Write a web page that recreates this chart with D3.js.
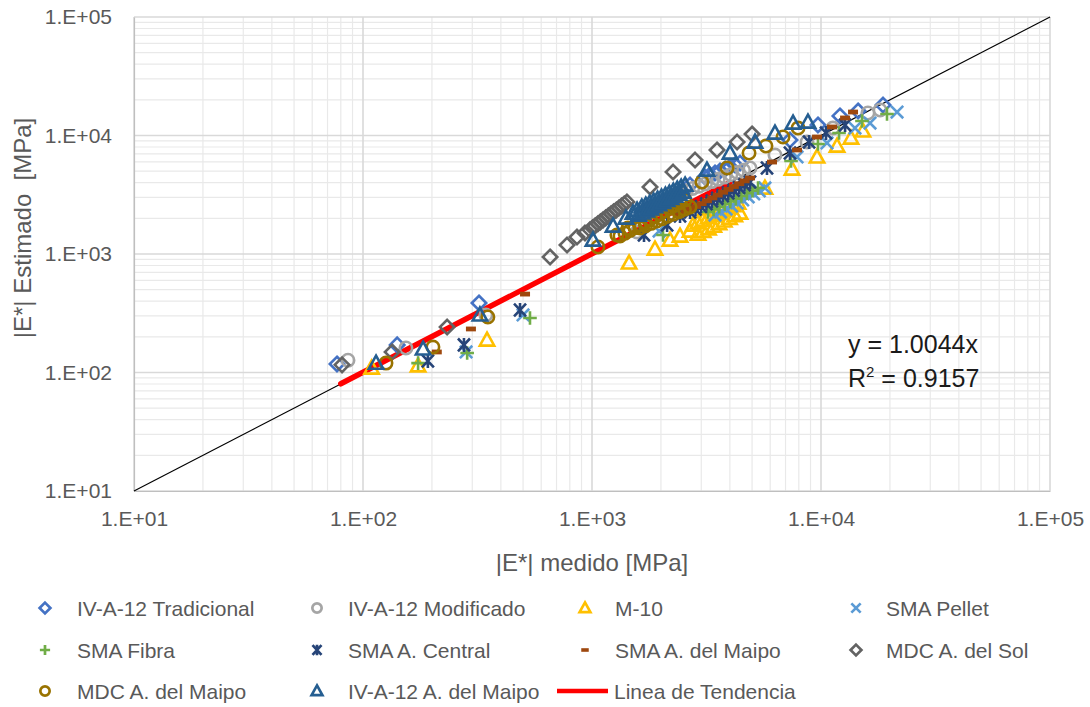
<!DOCTYPE html>
<html><head><meta charset="utf-8">
<script src="https://cdn.jsdelivr.net/npm/d3@7"></script>
<style>
html,body{margin:0;padding:0;background:#fff;}
svg{display:block;font-family:"Liberation Sans",Arial,sans-serif;}
</style></head>
<body>
<svg id="chart" width="1090" height="707"></svg>
<script>
// ---- data ----
const tradX = [77, 141, 321, 2680, 3114, 3275, 3444, 3622, 3810, 4007, 4214, 4430, 7320, 9700, 12100, 14520, 18660];
const tradY = [118, 171, 386, 3820, 4467, 4650, 4830, 5020, 5220, 5420, 5640, 5860, 9160, 12270, 14620, 16100, 18070];
const modX = [86, 154, 344, 1573, 2423, 2583, 2753, 2935, 3129, 3335, 3555, 3790, 4040, 4307, 4591, 4898, 6295, 8690, 11270, 16030, 18110];
const modY = [127, 161, 306, 1535, 3273, 3421, 3575, 3736, 3905, 4081, 4265, 4457, 4658, 4868, 5088, 5320, 6840, 8810, 11560, 15490, 16410];
const m10X = [109, 174, 348, 1452, 1884, 2191, 2423, 2680, 2761, 2904, 3054, 3212, 3378, 3553, 3736, 3930, 4133, 4345, 2904, 3061, 3227, 3402, 3587, 3781, 3986, 4202, 4430, 5690, 7470, 9610, 11750, 13520, 15240];
const m10Y = [109, 114, 188, 840, 1102, 1313, 1419, 1563, 1757, 1842, 1932, 2025, 2124, 2227, 2335, 2448, 2567, 2692, 1475, 1552, 1634, 1719, 1809, 1904, 2003, 2108, 2218, 3606, 5215, 6590, 8150, 9530, 10920];
const pelletX = [282, 500, 1963, 3444, 3641, 3850, 4071, 4304, 4551, 4811, 5087, 5378, 5690, 7860, 10620, 14070, 16370, 21480];
const pelletY = [149, 306, 1563, 2133, 2261, 2397, 2541, 2694, 2856, 3028, 3210, 3403, 3606, 6590, 8650, 11560, 12740, 15780];
const fibraX = [174, 285, 536, 2042, 3212, 3396, 3591, 3797, 4015, 4246, 4489, 4747, 5020, 5309, 7400, 9700, 11990, 15100, 19420];
const fibraY = [120, 146, 288, 1446, 2261, 2382, 2508, 2642, 2783, 2931, 3087, 3252, 3425, 3606, 6090, 8480, 10500, 13250, 15180];
const centralX = [192, 276, 485, 1687, 2128, 2423, 2680, 2831, 2990, 3159, 3337, 3524, 3723, 3932, 4154, 4388, 4635, 4898, 5810, 7320, 8870, 10520, 12740];
const centralY = [125, 171, 337, 1446, 1757, 2093, 2261, 2384, 2514, 2651, 2796, 2948, 3109, 3279, 3457, 3646, 3845, 4052, 5320, 7114, 8810, 10500, 12270];
const smaMaipoX = [210, 296, 510, 2191, 2423, 2558, 2700, 2850, 3009, 3176, 3353, 3539, 3736, 3944, 4163, 4395, 4639, 4898, 6110, 7860, 9610, 11170, 12740, 13800];
const smaMaipoY = [149, 233, 459, 2261, 2133, 2254, 2383, 2518, 2662, 2813, 2973, 3142, 3321, 3510, 3710, 3921, 4144, 4378, 5970, 7550, 9710, 11800, 14060, 15780];
const solX = [81, 134, 233, 656, 778, 860, 932, 980, 1006, 1033, 1061, 1089, 1118, 1148, 1179, 1211, 1243, 1277, 1311, 1346, 1382, 1420, 1792, 2259, 2818, 3515, 4300, 5000];
const solY = [116, 149, 242, 944, 1191, 1390, 1504, 1600, 1663, 1729, 1797, 1868, 1941, 2018, 2097, 2180, 2266, 2355, 2448, 2544, 2645, 2750, 3675, 4920, 6210, 7550, 8810, 10300];
const mdcMaipoX = [126, 202, 351, 1062, 1285, 1436, 1325, 1393, 1465, 1541, 1620, 1704, 1792, 1884, 1981, 2083, 2191, 2304, 2423, 2548, 1621, 1714, 1812, 1917, 2027, 2143, 2266, 2396, 2534, 2680, 3020, 3890, 4850, 5750, 6825, 7940];
const mdcMaipoY = [120, 164, 294, 1146, 1446, 1657, 1419, 1498, 1580, 1668, 1760, 1857, 1960, 2068, 2183, 2303, 2431, 2565, 2707, 2857, 1657, 1734, 1815, 1899, 1987, 2080, 2176, 2278, 2384, 2494, 4052, 5320, 7114, 8150, 9710, 11560];
const ivMaipoX = [114, 183, 324, 1010, 1236, 1407, 1510, 1573, 1650, 1717, 1786, 1858, 1933, 2011, 2092, 2177, 2265, 2356, 2451, 2550, 1600, 1666, 1735, 1807, 1882, 1960, 2041, 2126, 2214, 2305, 2401, 2500, 3177, 4006, 5150, 6295, 7550, 8770];
const ivMaipoY = [120, 158, 306, 1313, 1723, 2013, 2218, 2350, 2494, 2592, 2695, 2801, 2912, 3027, 3147, 3271, 3400, 3535, 3674, 3820, 2133, 2222, 2314, 2410, 2510, 2614, 2722, 2835, 2953, 3075, 3203, 3337, 5117, 7114, 8810, 10500, 12740, 13000];

const trendSlope = 1.0044;
const trendX = [80, 4000];
const diagX = [10, 100000];
const tickValues = [10, 100, 1000, 10000, 100000];
const eqText = "y = 1.0044x";
const r2Text = "0.9157";

const seriesNames = ["IV-A-12 Tradicional","IV-A-12 Modificado","M-10","SMA Pellet","SMA Fibra","SMA A. Central","SMA A. del Maipo","MDC A. del Sol","MDC A. del Maipo","IV-A-12 A. del Maipo"];
const trendName = "Linea de Tendencia";

// ---- styles ----
const seriesStyle = [
  {shape:"diamond", color:"#4472C4", x:tradX, y:tradY},
  {shape:"circle", color:"#A5A5A5", x:modX, y:modY},
  {shape:"triangle", color:"#FFC000", x:m10X, y:m10Y},
  {shape:"x", color:"#5B9BD5", x:pelletX, y:pelletY},
  {shape:"plus", color:"#70AD47", x:fibraX, y:fibraY},
  {shape:"star", color:"#264478", x:centralX, y:centralY},
  {shape:"dash", color:"#9E480E", x:smaMaipoX, y:smaMaipoY},
  {shape:"diamond", color:"#636363", x:solX, y:solY},
  {shape:"circle", color:"#997300", x:mdcMaipoX, y:mdcMaipoY},
  {shape:"triangle", color:"#255E91", x:ivMaipoX, y:ivMaipoY}
];

function shapePath(shape, s) {
  switch (shape) {
    case "diamond": return `M0,${-7.2*s}L${7.2*s},0L0,${7.2*s}L${-7.2*s},0Z`;
    case "circle": return `M${6.2*s},0A${6.2*s},${6.2*s} 0 1,1 ${-6.2*s},0A${6.2*s},${6.2*s} 0 1,1 ${6.2*s},0Z`;
    case "triangle": return `M0,${-7.4*s}L${7.2*s},${5.6*s}L${-7.2*s},${5.6*s}Z`;
    case "x": return `M${-6.2*s},${-6.2*s}L${6.2*s},${6.2*s}M${-6.2*s},${6.2*s}L${6.2*s},${-6.2*s}`;
    case "plus": return `M${-6.8*s},0H${6.8*s}M0,${-6.8*s}V${6.8*s}`;
    case "star": return `M${-6*s},${-6.4*s}L${6*s},${6.4*s}M${-6*s},${6.4*s}L${6*s},${-6.4*s}M0,${-7*s}V${7*s}`;
    case "dash": return `M${-5*s},${-2.4*s}H${5*s}V${2.4*s}H${-5*s}Z`;
  }
}

const svg = d3.select("#chart");
const x = d3.scaleLog().domain([10, 100000]).range([134, 1050]);
const y = d3.scaleLog().domain([10, 100000]).range([491, 17]);

// grid
const grid = svg.append("g");
const gridVals = [];
[10, 100, 1000, 10000].forEach(d => { for (let k = 1; k <= 9; k++) gridVals.push({v: d*k, major: k === 1}); });
gridVals.push({v: 100000, major: true});
grid.selectAll("line.minx").data(gridVals.filter(g => !g.major)).join("line")
  .attr("x1", d => x(d.v)).attr("x2", d => x(d.v)).attr("y1", y(10)).attr("y2", y(100000))
  .attr("stroke", "#e9e9e9").attr("stroke-width", 1.2);
grid.selectAll("line.miny").data(gridVals.filter(g => !g.major)).join("line")
  .attr("y1", d => y(d.v)).attr("y2", d => y(d.v)).attr("x1", x(10)).attr("x2", x(100000))
  .attr("stroke", "#e9e9e9").attr("stroke-width", 1.2);
grid.selectAll("line.majx").data(gridVals.filter(g => g.major)).join("line")
  .attr("x1", d => x(d.v)).attr("x2", d => x(d.v)).attr("y1", y(10)).attr("y2", y(100000))
  .attr("stroke", "#d9d9d9").attr("stroke-width", 1.6);
grid.selectAll("line.majy").data(gridVals.filter(g => g.major)).join("line")
  .attr("y1", d => y(d.v)).attr("y2", d => y(d.v)).attr("x1", x(10)).attr("x2", x(100000))
  .attr("stroke", "#d9d9d9").attr("stroke-width", 1.6);

// axes
const fmt = v => "1.E+" + String(Math.round(Math.log10(v))).padStart(2, "0");
const xAxis = svg.append("g").attr("transform", `translate(0,${y(10)})`)
  .call(d3.axisBottom(x).tickValues(tickValues).tickFormat(fmt).tickSize(0).tickPadding(20));
const yAxis = svg.append("g").attr("transform", `translate(${x(10)},0)`)
  .call(d3.axisLeft(y).tickValues(tickValues).tickFormat(fmt).tickSize(0).tickPadding(22));
[xAxis, yAxis].forEach(a => {
  a.select(".domain").attr("stroke", "#bfbfbf").attr("stroke-width", 1.2);
  a.selectAll("text").attr("fill", "#595959").style("font-size", "21px").style("font-family", '"Liberation Sans",Arial,sans-serif');
});

// diagonal y = x
svg.append("path").datum(diagX)
  .attr("d", d3.line().x(d => x(d)).y(d => y(d)))
  .attr("stroke", "#000").attr("stroke-width", 1.2).attr("fill", "none");

// trend line
svg.append("path").datum(trendX)
  .attr("d", d3.line().x(d => x(d)).y(d => y(d * trendSlope)))
  .attr("stroke", "#FF0000").attr("stroke-width", 5.5).attr("stroke-linecap", "round").attr("fill", "none");

// series
seriesStyle.forEach(s => {
  const pts = s.x.map((v, i) => [v, s.y[i]]);
  const filled = s.shape === "dash";
  svg.append("g").selectAll("path").data(pts).join("path")
    .attr("transform", d => `translate(${x(d[0])},${y(d[1])})`)
    .attr("d", shapePath(s.shape, 1))
    .attr("fill", filled ? s.color : "none")
    .attr("stroke", filled ? "none" : s.color)
    .attr("stroke-width", 2.6);
});

// equation
const eq = svg.append("g").attr("fill", "#1a1a1a").style("font-size", "25px");
eq.append("text").attr("x", 848).attr("y", 353).text(eqText);
const r2 = eq.append("text").attr("x", 848).attr("y", 387);
r2.append("tspan").text("R");
r2.append("tspan").attr("dy", -10).style("font-size", "15px").text("2");
r2.append("tspan").attr("dy", 10).text(" = " + r2Text);

// axis titles
svg.append("text").attr("x", 592).attr("y", 571).attr("text-anchor", "middle")
  .attr("fill", "#595959").style("font-size", "24px").text("|E*| medido [MPa]");
svg.append("text").attr("transform", "translate(31,228) rotate(-90)").attr("text-anchor", "middle")
  .attr("fill", "#595959").style("font-size", "24px").style("white-space", "pre").text("|E*| Estimado  [MPa]");

// legend
const colMarker = [45, 317, 585, 856];
const colText = [77, 348, 615, 886];
const rowY = [608, 650, 691];
const leg = svg.append("g");
seriesStyle.forEach((s, i) => {
  const c = i % 4, r = Math.floor(i / 4);
  const filled = s.shape === "dash";
  leg.append("path").attr("transform", `translate(${colMarker[c]},${rowY[r]})`)
    .attr("d", shapePath(s.shape, 0.75))
    .attr("fill", filled ? s.color : "none")
    .attr("stroke", filled ? "none" : s.color).attr("stroke-width", 2.7);
  leg.append("text").attr("x", colText[c]).attr("y", rowY[r]).attr("dy", "0.36em")
    .attr("fill", "#595959").style("font-size", "21px").text(seriesNames[i]);
});
leg.append("line").attr("x1", 557).attr("x2", 608).attr("y1", rowY[2]).attr("y2", rowY[2])
  .attr("stroke", "#FF0000").attr("stroke-width", 4.5);
leg.append("text").attr("x", 614).attr("y", rowY[2]).attr("dy", "0.36em")
  .attr("fill", "#595959").style("font-size", "21px").text(trendName);
</script>
</body></html>
